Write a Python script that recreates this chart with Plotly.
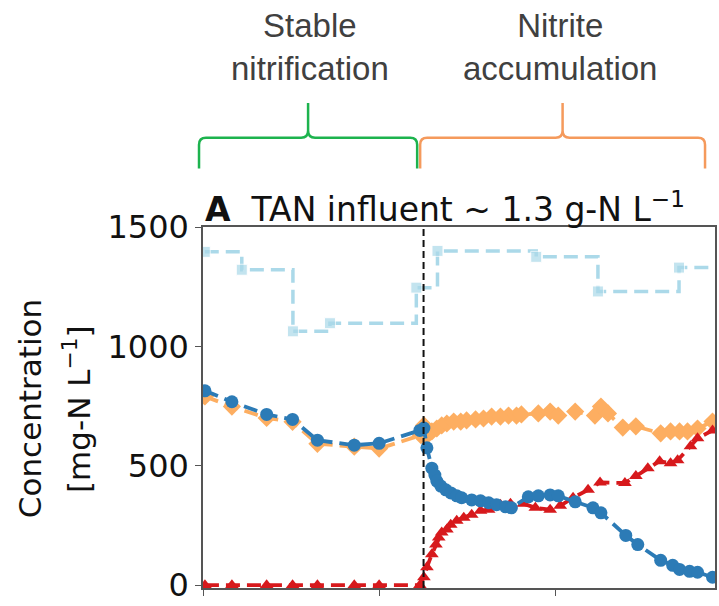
import plotly.graph_objects as go

# ---------------- data ----------------
# Influent TAN (light blue, step line)
inf_days = [1, 22, 51, 72, 121, 133, 189, 224, 270, 290.4]
inf_tan = [1396, 1321, 1063, 1097, 1246, 1400, 1375, 1230, 1330, 1330]

# Effluent TAN (dark blue, circles)
tan_days = [1.1, 16.4, 36.1, 50.8, 64.9, 85.8, 99.9, 123.0, 125.3, 127.0, 129.8, 131.5,
            132.6, 134.9, 137.7, 140.6, 143.9, 146.7, 152.4, 157.4, 162.0, 166.5, 171.6,
            174.9, 184.5, 190.2, 196.9, 201.5, 211.1, 221.2, 225.7, 239.8, 246.6, 259.6,
            266.4, 270.3, 276.0, 280.5, 289.0]
tan_eff = [814, 768, 715, 694, 607, 586, 594, 648, 658, 575, 490, 461,
           436, 415, 399, 386, 374, 366, 357, 353, 345, 337, 328,
           324, 370, 374, 378, 374, 349, 324, 303, 208, 170, 104,
           83, 66, 58, 54, 33]

# Nitrate (orange, diamonds)
no3_days = [1.1, 16.4, 36.1, 50.8, 64.9, 85.8, 99.9, 123.6, 125.3, 127.0, 129.8, 132.6,
            135.4, 138.3, 142.2, 146.2, 149.5, 154.6, 159.1, 163.7, 168.7, 173.3, 177.8,
            180.6, 190.2, 196.9, 201.5, 211.1, 222.3, 225.7, 229.7, 238.1, 245.5, 259.6,
            265.2, 270.3, 274.8, 280.5, 289.0]
no3 = [790, 748, 700, 684, 592, 580, 572, 628, 669, 627, 644, 656,
       669, 677, 685, 685, 690, 694, 698, 706, 706, 710, 710,
       715, 719, 727, 710, 727, 710, 748, 719, 660, 665, 636,
       644, 644, 644, 656, 685]

# Nitrite (red, triangles)
no2_days = [1.1, 16.4, 36.1, 50.8, 64.9, 85.8, 99.9, 123.0, 125.3, 127.0, 129.8, 132.1,
            133.7, 135.4, 138.3, 140.5, 143.9, 147.9, 152.4, 157.4, 162.0, 168.7, 174.4,
            181.7, 188.5, 196.9, 202.6, 209.9, 218.4, 225.2, 239.3, 245.5, 252.3, 259.0,
            265.2, 269.2, 276.5, 280.5, 289.0]
no2 = [0, 0, 0, 0, 0, 0, 0, 0, 33, 75, 129, 170,
       199, 220, 233, 253, 270, 282, 295, 312, 316, 337, 341,
       341, 324, 316, 332, 366, 399, 430, 428, 457, 490, 519,
       511, 523, 582, 615, 648]

switch_day = 125.1
y_ticks = [0, 500, 1000, 1500]
x_ticks = [0, 100, 200]

C_RED = "#d7191c"
C_ORANGE = "#fdae61"
C_LIGHT = "#abd9e9"
C_BLUE = "#2c7bb6"
DASH = "14px,7px"

fig = go.Figure()

fig.add_trace(go.Scatter(
    x=inf_days, y=inf_tan, mode="lines+markers", line_shape="hv",
    line=dict(color=C_LIGHT, width=3.5, dash=DASH),
    marker=dict(symbol="square", size=[11] * (len(inf_days) - 1) + [0], color=C_LIGHT),
    name="TAN influent"))

fig.add_trace(go.Scatter(
    x=no3_days, y=no3, mode="lines+markers",
    line=dict(color=C_ORANGE, width=3.8, dash=DASH),
    marker=dict(symbol="diamond", size=14, color=C_ORANGE),
    name="NO3"))

fig.add_trace(go.Scatter(
    x=no2_days, y=no2, mode="lines+markers",
    line=dict(color=C_RED, width=3.8, dash=DASH),
    marker=dict(symbol="triangle-up", size=12, color=C_RED),
    name="NO2"))

fig.add_trace(go.Scatter(
    x=tan_days, y=tan_eff, mode="lines+markers",
    line=dict(color=C_BLUE, width=3.8, dash=DASH),
    marker=dict(symbol="circle", size=13, color=C_BLUE),
    name="TAN"))

fig.add_shape(type="line", xref="x", yref="paper", x0=switch_day, x1=switch_day,
              y0=0, y1=1, line=dict(color="#111111", width=2, dash="7px,4px"))

# ---------------- layout ----------------
W, H = 719, 606
L, R, T, B = 203, 2, 227, 15
pw, ph = W - L - R, H - T - B


def px2paper(px, py):
    return (px - L) / pw, (H - B - py) / ph


def brace(x0, x1, ytip, ybar, ypeak):
    xm = (x0 + x1) / 2
    r = 7

    def P(x, y):
        a, b = px2paper(x, y)
        return f"{a:.5f},{b:.5f}"
    path = (f"M{P(x0, ytip)} L{P(x0, ybar + r)} Q{P(x0, ybar)} {P(x0 + r, ybar)} "
            f"L{P(xm - r, ybar)} Q{P(xm, ybar)} {P(xm, ybar - r)} L{P(xm, ypeak)} "
            f"L{P(xm, ybar - r)} Q{P(xm, ybar)} {P(xm + r, ybar)} "
            f"L{P(x1 - r, ybar)} Q{P(x1, ybar)} {P(x1, ybar + r)} L{P(x1, ytip)}")
    return path


for (x0, x1, col) in [(199, 418, "#1db34e"), (421, 707, "#f59a5c")]:
    fig.add_shape(type="path", xref="paper", yref="paper",
                  path=brace(x0, x1, 168, 137, 102),
                  line=dict(color=col, width=2.5), layer="above")

for (cx, txt) in [(310, "Stable<br>nitrification"), (561, "Nitrite<br>accumulation")]:
    ax, ay = px2paper(cx, 46)
    fig.add_annotation(x=ax, y=ay, xref="paper", yref="paper", text=txt,
                       showarrow=False, xanchor="center", yanchor="middle",
                       font=dict(family="Liberation Sans, Arial", size=33, color="#404040"))

tx, ty = px2paper(203, 207)
fig.add_annotation(x=tx, y=ty, xref="paper", yref="paper",
                   text="<b>A</b>  TAN influent ~ 1.3 g-N L<sup>−1</sup>",
                   showarrow=False, xanchor="left", yanchor="middle",
                   font=dict(family="DejaVu Sans", size=33, color="#111111"))

for (cx, txt) in [(30, "Concentration"), (77, "[mg-N L<sup>−1</sup>]")]:
    ax, ay = px2paper(cx, 410)
    fig.add_annotation(x=ax, y=ay, xref="paper", yref="paper", text=txt,
                       showarrow=False, textangle=-90, xanchor="center", yanchor="middle",
                       font=dict(family="DejaVu Sans", size=31, color="#111111"))

fig.update_layout(
    width=W, height=H, margin=dict(l=L, r=R, t=T, b=B),
    paper_bgcolor="white", plot_bgcolor="white", showlegend=False,
    xaxis=dict(range=[0, 290.4], tickvals=x_ticks, showticklabels=False,
               ticks="outside", ticklen=6, tickwidth=1.3, tickcolor="#555",
               showline=True, linecolor="#555", linewidth=1.5, mirror=True,
               showgrid=False, zeroline=False),
    yaxis=dict(range=[-12, 1500], tickvals=y_ticks, ticks="outside", ticklen=6,
               tickwidth=1.3, tickcolor="#555", ticklabeloverflow="allow",
               tickfont=dict(family="DejaVu Sans", size=32, color="#111111"),
               showline=True, linecolor="#555", linewidth=1.5, mirror=True,
               showgrid=False, zeroline=False),
)

fig.write_html("out.html")
